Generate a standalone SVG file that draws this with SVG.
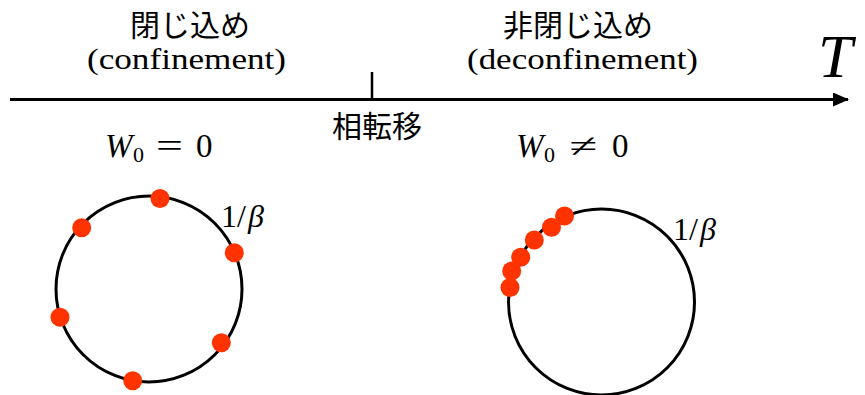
<svg xmlns="http://www.w3.org/2000/svg" width="865" height="395" viewBox="0 0 865 395">
<defs>
<style>
.jp{font-family:"Noto Sans CJK JP","Noto Sans CJK SC",sans-serif;font-size:30px;fill:#000;}
.rm{font-family:"Liberation Serif",serif;fill:#000;}
.it{font-family:"Liberation Serif",serif;font-style:italic;fill:#000;}
.circ{fill:none;stroke:#000;stroke-width:3;}
.dot{fill:#FF3300;}
</style>
<marker id="ah" markerWidth="16" markerHeight="14" refX="15" refY="7" orient="auto" markerUnits="userSpaceOnUse">
<path d="M0,0 L16,7 L0,14 Z" fill="#000"/>
</marker>
</defs>
<rect width="865" height="395" fill="#fff"/>
<g id="connectors">
<line x1="10" y1="99.5" x2="848" y2="99.5" stroke="#000" stroke-width="3" marker-end="url(#ah)"/>
<line x1="372" y1="72" x2="372" y2="98" stroke="#000" stroke-width="2.5"/>
</g>
<g id="confinement-label">
<text class="jp" x="190" y="36" text-anchor="middle">閉じ込め</text>
<text class="rm" x="87" y="69" font-size="30" textLength="199" lengthAdjust="spacingAndGlyphs">(confinement)</text>
</g>
<g id="deconfinement-label">
<text class="jp" x="578" y="36" text-anchor="middle">非閉じ込め</text>
<text class="rm" x="467" y="69" font-size="30" textLength="231" lengthAdjust="spacingAndGlyphs">(deconfinement)</text>
</g>
<g id="T-label">
<text class="it" x="818" y="77" font-size="62">T</text>
</g>
<g id="transition-label">
<text class="jp" x="377" y="137" text-anchor="middle" font-size="31">相転移</text>
</g>
<g id="W0-zero">
<text class="it" x="105" y="157" font-size="33">W</text>
<text class="rm" x="133" y="162" font-size="22">0</text>
<text class="rm" x="156" y="157" font-size="33" textLength="27" lengthAdjust="spacingAndGlyphs">=</text>
<text class="rm" x="196" y="157" font-size="33">0</text>
</g>
<g id="W0-nonzero">
<text class="it" x="516" y="157" font-size="33">W</text>
<text class="rm" x="544" y="162" font-size="22">0</text>
<text class="rm" x="569" y="157" font-size="33" textLength="28" lengthAdjust="spacingAndGlyphs">≠</text>
<text class="rm" x="612" y="157" font-size="33">0</text>
</g>
<g id="circle-confined">
<circle class="circ" cx="149" cy="289" r="93"/>
<text x="221" y="227" font-size="32"><tspan class="rm">1/</tspan><tspan class="it" dx="2">β</tspan></text>
<circle class="dot" cx="160" cy="198.5" r="9.5"/>
<circle class="dot" cx="81.7" cy="227.7" r="9.5"/>
<circle class="dot" cx="234.3" cy="252.7" r="9.5"/>
<circle class="dot" cx="60" cy="317.3" r="9.5"/>
<circle class="dot" cx="221.3" cy="342.7" r="9.5"/>
<circle class="dot" cx="132.7" cy="380.7" r="9.5"/>
</g>
<g id="circle-deconfined">
<circle class="circ" cx="601.5" cy="302" r="93"/>
<text x="673" y="240" font-size="32"><tspan class="rm">1/</tspan><tspan class="it" dx="2">β</tspan></text>
<circle class="dot" cx="564.5" cy="216" r="9.5"/>
<circle class="dot" cx="551.5" cy="227.3" r="9.5"/>
<circle class="dot" cx="534.3" cy="240" r="9.5"/>
<circle class="dot" cx="520.7" cy="257.3" r="9.5"/>
<circle class="dot" cx="511.7" cy="271" r="9.5"/>
<circle class="dot" cx="510" cy="287.5" r="9.5"/>
</g>
</svg>
